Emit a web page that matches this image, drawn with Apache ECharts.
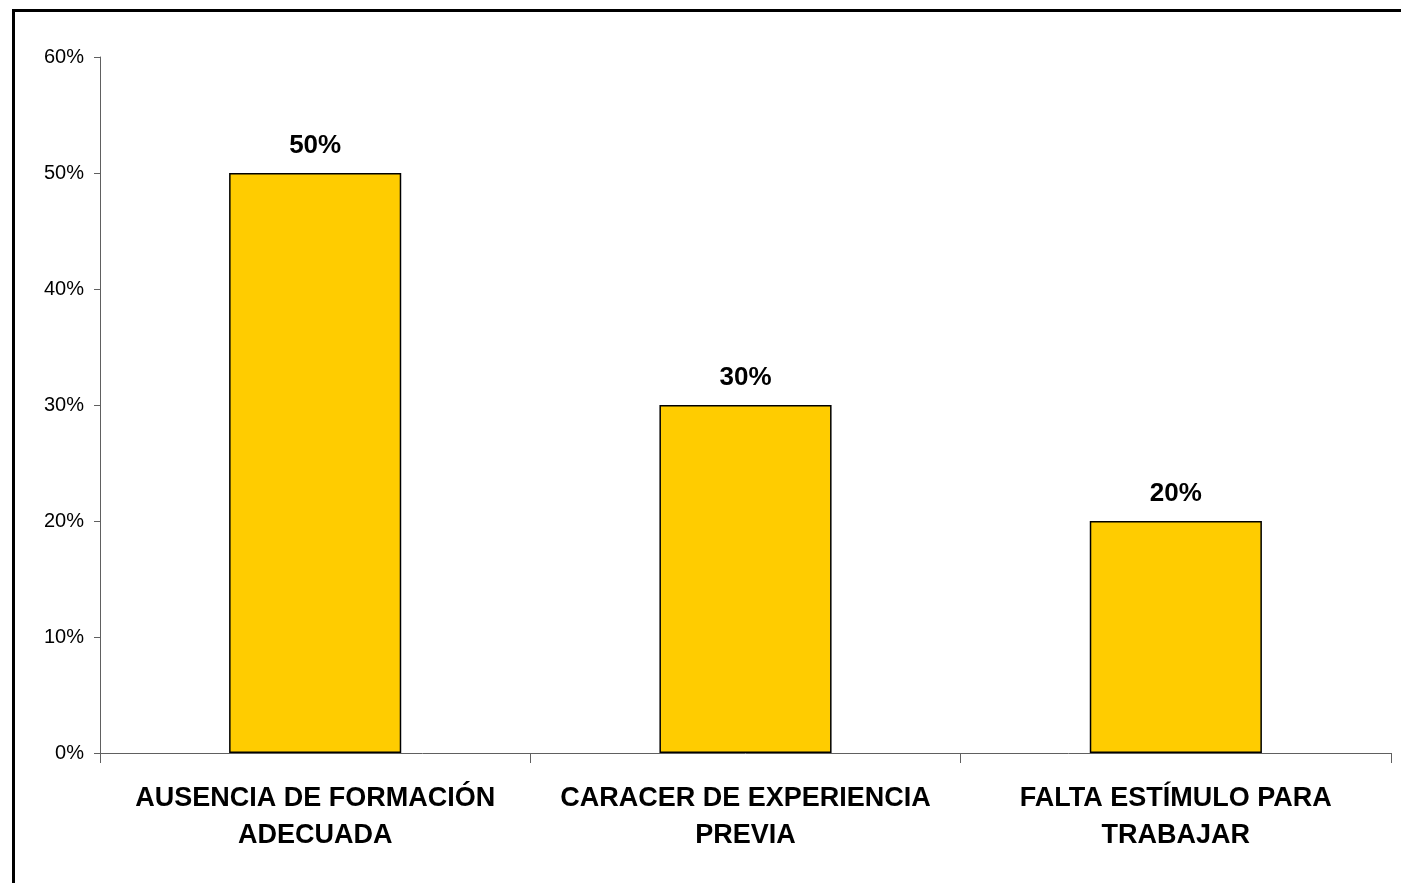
<!DOCTYPE html>
<html>
<head>
<meta charset="utf-8">
<script src="https://cdn.jsdelivr.net/npm/echarts@6/dist/echarts.min.js"></script>
<style>
  html, body { margin: 0; padding: 0; background: #fff; overflow: hidden; }
  #frame {
    position: absolute; left: 12px; top: 9px;
    width: 1400px; height: 880px;
    border-left: 3px solid #000; border-top: 3px solid #000;
  }
  #chart { position: absolute; left: 0; top: 0; width: 1401px; height: 883px; }
</style>
</head>
<body>
<div id="frame"></div>
<div id="chart"></div>
<script>
// datos
const categories = [
  "AUSENCIA DE FORMACIÓN\nADECUADA",
  "CARACER DE EXPERIENCIA\nPREVIA",
  "FALTA ESTÍMULO PARA\nTRABAJAR"
];
const values = [0.5, 0.3, 0.2];

const chart = echarts.init(document.getElementById("chart"));
chart.setOption({
  animation: false,
  textStyle: { fontFamily: "Liberation Sans, Arial, sans-serif" },
  grid: { left: 100, right: 10, top: 57, bottom: 130, containLabel: false },
  xAxis: {
    type: "category",
    data: categories,
    axisLine: { lineStyle: { color: "#606060", width: 1 } },
    axisTick: { show: true, length: 10, alignWithLabel: false, lineStyle: { color: "#606060" } },
    axisLabel: {
      interval: 0,
      margin: 27,
      color: "#000",
      fontSize: 27,
      fontWeight: "bold",
      lineHeight: 37
    }
  },
  yAxis: {
    type: "value",
    min: 0,
    max: 0.6,
    interval: 0.1,
    axisLine: { show: true, lineStyle: { color: "#606060", width: 1 } },
    axisTick: { show: true, length: 6, lineStyle: { color: "#606060" } },
    splitLine: { show: false },
    axisLabel: {
      margin: 16,
      color: "#000",
      fontSize: 20,
      formatter: v => Math.round(v * 100) + "%"
    }
  },
  series: [{
    type: "bar",
    data: values,
    barWidth: "40%",
    itemStyle: { color: "#FFCC00", borderColor: "#000", borderWidth: 1.5 },
    label: {
      show: true,
      position: "top",
      distance: 14,
      color: "#000",
      fontSize: 26,
      fontWeight: "bold",
      formatter: p => Math.round(p.value * 100) + "%"
    }
  }]
});
</script>
</body>
</html>
